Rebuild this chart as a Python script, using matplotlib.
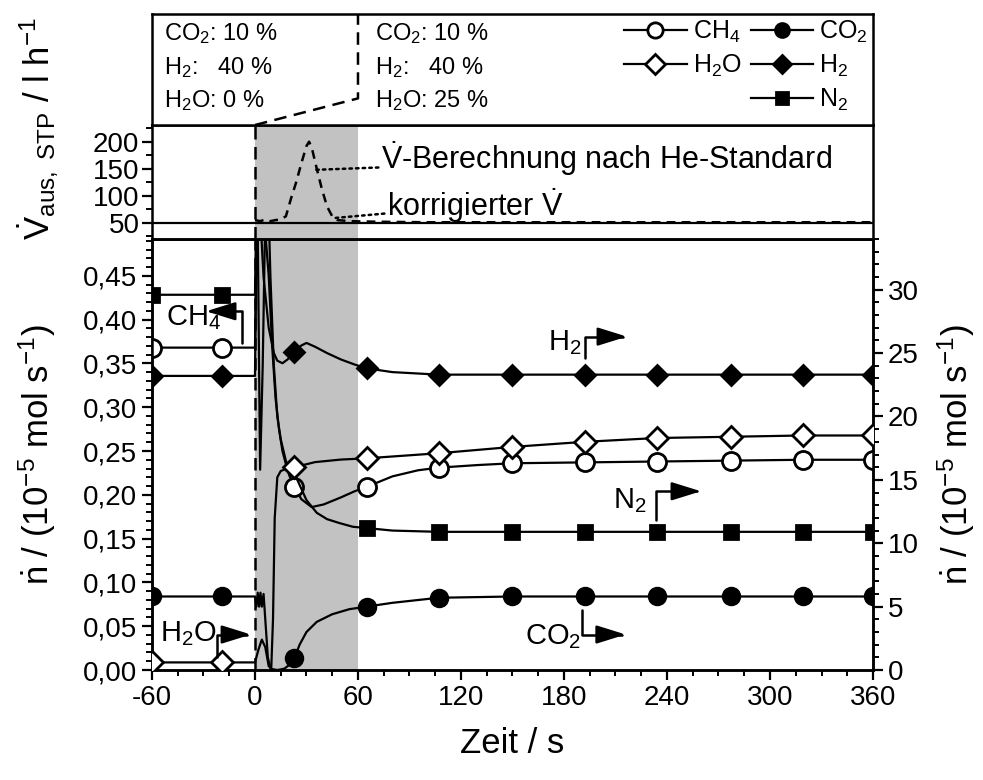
import numpy as np
import matplotlib
matplotlib.use("Agg")
import matplotlib.pyplot as plt
from matplotlib.lines import Line2D
from matplotlib.ticker import MultipleLocator, FuncFormatter

plt.rcParams['font.family'] = ['Liberation Sans', 'DejaVu Sans']
plt.rcParams['mathtext.fontset'] = 'custom'
plt.rcParams['mathtext.rm'] = 'Liberation Sans'
plt.rcParams['mathtext.it'] = 'Liberation Sans:italic'
plt.rcParams['mathtext.bf'] = 'Liberation Sans:bold'
plt.rcParams['axes.linewidth'] = 1.8
plt.rcParams['axes.unicode_minus'] = False

# --- data (Zeit in s) ---
# CH4, left axis
t_ch4 = [-60, 0, 1, 6, 8, 10, 12, 14, 16, 18, 20, 23, 27, 33, 40, 50, 58, 65, 80, 95, 107,
         130, 150, 192, 234, 277, 319, 360]
n_ch4 = [0.368, 0.368, 0.50, 0.50, 0.45, 0.37, 0.31, 0.275, 0.25, 0.235, 0.222, 0.209, 0.195,
         0.186, 0.189, 0.197, 0.204, 0.209, 0.221, 0.228, 0.231, 0.234, 0.236, 0.237, 0.238,
         0.239, 0.240, 0.240]

# right axis, 10^-5 mol/s
t_h2 = [-60, 0, 1, 3, 5, 8, 11, 13, 16, 19, 23, 27, 30, 35, 42, 50, 58, 65, 80, 107, 150, 360]
n_h2 = [23.2, 23.2, 36, 36, 31, 27, 25.0, 24.4, 24.2, 24.5, 25.1, 25.6, 25.8, 25.5, 25.0, 24.5,
        24.1, 23.8, 23.5, 23.3, 23.3, 23.3]

t_n2 = [-60, 0, 0.7, 1.5, 3, 4.5, 6, 8, 9, 11, 13, 15, 18, 21, 24, 30, 36, 42, 49, 57, 65, 80,
        107, 360]
n_n2 = [29.6, 29.6, 36, 36, 15.8, 24, 36, 36, 31, 24, 20, 18.2, 16.5, 15.7, 15.2, 13.4, 12.4,
        11.9, 11.6, 11.3, 11.2, 11.0, 10.9, 10.9]

t_h2o = [-60, 0, 2, 4, 6, 8, 9.5, 10.5, 11.5, 13, 15, 19, 23, 35, 50, 65, 107, 150, 192, 234,
         277, 319, 360]
n_h2o = [0.6, 0.6, 1.6, 2.4, 1.8, 0.3, 0.2, 4, 12, 15.2, 15.7, 15.9, 16.0, 16.4, 16.6, 16.7,
         17.1, 17.6, 18.0, 18.3, 18.4, 18.5, 18.5]

t_co2 = [-60, 0, 0.8, 1.6, 2.4, 3.2, 4, 5, 6, 7.5, 9, 13, 17, 20, 23, 26, 30, 36, 45, 55, 65,
         80, 107, 150, 360]
n_co2 = [5.8, 5.8, 5.0, 6.1, 5.0, 6.1, 5.0, 6.0, 4.0, 1.0, 0.1, 0.0, 0.1, 0.4, 0.95, 2.0, 3.0,
         3.8, 4.4, 4.8, 5.0, 5.3, 5.7, 5.8, 5.8]

t_marks = [-60, -19, 23, 65, 107, 150, 192, 234, 277, 319, 360]
t_marks_n2 = [-60, -19, 65, 107, 150, 192, 234, 277, 319, 360]

# top panel: Vdot in l/h
t_he = [0, 3, 6, 9, 12, 15, 18, 21, 24, 27, 30, 31.5, 33, 36, 39, 42, 45, 48, 55, 70, 100,
        200, 300, 360]
v_he = [55, 53, 56, 53, 55, 56, 62, 95, 125, 160, 192, 200, 190, 150, 112, 80, 62, 55, 53, 52,
        51, 51, 51, 51]
t_korr = [-60, 360]
v_korr = [50, 50]

feed_left = ['CO$_2$: 10 %', 'H$_2$:   40 %', 'H$_2$O: 0 %']
feed_right = ['CO$_2$: 10 %', 'H$_2$:   40 %', 'H$_2$O: 25 %']

shade = '#c2c2c2'
lw = 1.6
tick_fs = 20
lab_fs = 25

fig = plt.figure(figsize=(9.83, 7.8), dpi=100)
L, W = 0.1546, 0.7335
ax = fig.add_axes([L, 0.1410, W, 0.5526])
axt = fig.add_axes([L, 0.6936, W, 0.1462], sharex=ax)
axb = fig.add_axes([L, 0.8397, W, 0.1423])
ax2 = ax.twinx()

# ---- main panel ----
ax.axvspan(0, 60, color=shade, lw=0, zorder=0)
ax.axvline(0, color='black', ls=(0, (5, 3)), lw=1.8, zorder=1)

ax.plot(t_ch4, n_ch4, color='black', lw=lw, zorder=3)
ax.plot(t_marks, np.interp(t_marks, t_ch4, n_ch4), ls='none', marker='o', ms=13,
        mfc='white', mec='black', mew=2, zorder=4)

series = [
    (t_h2, n_h2, 'D', 'black', 10.5, t_marks),
    (t_n2, n_n2, 's', 'black', 10.5, t_marks_n2),
    (t_h2o, n_h2o, 'D', 'white', 11, t_marks),
    (t_co2, n_co2, 'o', 'black', 12, t_marks),
]
for tt, nn, mk, fc, ms, tm in series:
    ax2.plot(tt, nn, color='black', lw=lw, zorder=3)
    ax2.plot(tm, np.interp(tm, tt, nn), ls='none', marker=mk, ms=ms, mfc=fc,
             mec='black', mew=2, zorder=4)

ax.set_xlim(-60, 360)
ax.set_ylim(0, 0.492)
ax2.set_ylim(0, 34.0)
ax.xaxis.set_major_locator(MultipleLocator(60))
ax.xaxis.set_minor_locator(MultipleLocator(15))
ax.yaxis.set_major_locator(MultipleLocator(0.05))
ax.yaxis.set_minor_locator(MultipleLocator(0.01))
ax.yaxis.set_major_formatter(FuncFormatter(lambda v, p: f'{v:.2f}'.replace('.', ',')))
ax2.yaxis.set_major_locator(MultipleLocator(5))
ax2.yaxis.set_minor_locator(MultipleLocator(1))
for a in (ax, ax2):
    a.tick_params(which='major', direction='out', length=7, width=1.6, labelsize=tick_fs)
    a.tick_params(which='minor', direction='out', length=4, width=1.4)
ax.set_xlabel('Zeit / s', fontsize=lab_fs, labelpad=12)
ax.set_ylabel(r'$\dot{\mathrm{n}}$ / (10$^{-5}$ mol s$^{-1}$)', fontsize=lab_fs, labelpad=18)
ax2.set_ylabel(r'$\dot{\mathrm{n}}$ / (10$^{-5}$ mol s$^{-1}$)', fontsize=lab_fs, labelpad=12)

# species labels with bent arrows
arrow_kw = dict(arrowstyle='-|>,head_length=0.9,head_width=0.28', color='black', lw=1.8,
                shrinkA=0, shrinkB=0, mutation_scale=20,
                connectionstyle='angle,angleA=90,angleB=0,rad=0')
labels = [
    ('CH$_4$', (-19.8, 27.8), (-7.6, 25.8), (-28.5, 28.3)),
    ('H$_2$', (190.0, 25.8), (192.2, 24.6), (216.7, 26.3)),
    ('N$_2$', (228.0, 13.4), (233.5, 11.8), (259.8, 14.1)),
    ('CO$_2$', (190.0, 2.6), (190.4, 4.7), (216.0, 2.8)),
    ('H$_2$O', (-22.5, 2.9), (-22.1, 1.0), (-2.3, 2.8)),
]
for txt, tpos, start, end in labels:
    ax2.text(tpos[0], tpos[1], txt, fontsize=21, ha='right', va='center', zorder=6)
    ax2.annotate('', xy=end, xytext=start, arrowprops=arrow_kw, zorder=6)

# ---- top panel ----
axt.axvspan(0, 60, color=shade, lw=0, zorder=0)
axt.axvline(0, color='black', ls=(0, (5, 3)), lw=1.8, zorder=1)
axt.plot(t_korr, v_korr, color='black', lw=lw, zorder=3)
axt.plot(t_he, v_he, color='black', lw=1.8, ls=(0, (3.5, 2.5)), zorder=3)
axt.set_ylim(20, 231)
axt.yaxis.set_major_locator(MultipleLocator(50))
axt.yaxis.set_minor_locator(MultipleLocator(25))
axt.tick_params(which='major', direction='out', length=7, width=1.6, labelsize=tick_fs, pad=2)
axt.tick_params(which='minor', direction='out', length=4, width=1.4)
axt.tick_params(axis='x', which='both', bottom=False, labelbottom=False)
dot_kw = dict(arrowstyle='-', color='black', lw=1.8, ls=':', shrinkA=0, shrinkB=0)
axt.annotate(r'$\dot{\mathrm{V}}$-Berechnung nach He-Standard', xy=(35.5, 148),
             xytext=(73.5, 168), fontsize=22, va='center', arrowprops=dot_kw)
axt.annotate(r'korrigierter $\dot{\mathrm{V}}$', xy=(47, 59), xytext=(77, 82),
             fontsize=22, va='center', arrowprops=dot_kw)

# ---- feed composition box ----
axb.set_xlim(-60, 360)
axb.set_ylim(0, 1)
axb.set_xticks([])
axb.set_yticks([])
axb.plot([0, 60, 60], [0, 0.24, 1], color='black', lw=1.8, ls=(0, (5, 3)))
for i, (a_txt, b_txt) in enumerate(zip(feed_left, feed_right)):
    y = 0.82 - i * 0.30
    axb.text(-53, y, a_txt, fontsize=17, va='center')
    axb.text(70, y, b_txt, fontsize=17, va='center')

handles = [
    Line2D([], [], color='black', lw=lw, marker='o', ms=11, mfc='white', mew=2),
    Line2D([], [], color='black', lw=lw, marker='D', ms=10, mfc='white', mew=2),
    Line2D([], [], alpha=0),
    Line2D([], [], color='black', lw=lw, marker='o', ms=10, mfc='black', mew=2),
    Line2D([], [], color='black', lw=lw, marker='D', ms=9, mfc='black', mew=2),
    Line2D([], [], color='black', lw=lw, marker='s', ms=9, mfc='black', mew=2),
]
names = ['CH$_4$', 'H$_2$O', '', 'CO$_2$', 'H$_2$', 'N$_2$']
axb.legend(handles, names, ncol=2, loc='upper right', frameon=False, fontsize=18,
           handlelength=2.5, handletextpad=0.25, columnspacing=0.35, labelspacing=0.3,
           borderaxespad=0.05, borderpad=0.15)

fig.text(38 / 983, 1 - 128 / 780,
         r'$\dot{\mathrm{V}}_{\mathrm{aus,\ STP}}$ / l h$^{-1}$',
         rotation=90, fontsize=lab_fs, ha='center', va='center')

fig.savefig('out.png', dpi=100)
